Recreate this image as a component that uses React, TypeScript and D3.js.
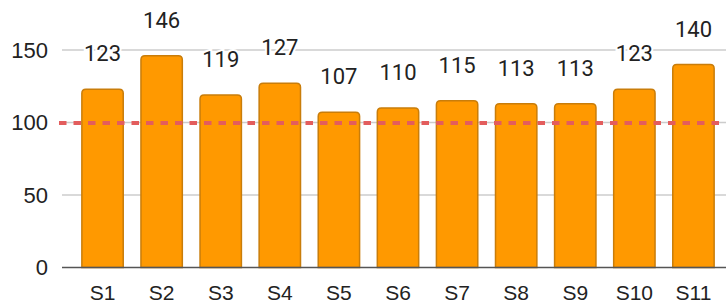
import * as React from "react";
import * as d3 from "d3";

const stores = ["S1", "S2", "S3", "S4", "S5", "S6", "S7", "S8", "S9", "S10", "S11"];
const sales = [123, 146, 119, 127, 107, 110, 115, 113, 113, 123, 140];
const yTicks = [0, 50, 100, 150];
const target = 100;

const W = 726;
const H = 302;
const labelFont = "Roboto, 'Noto Sans', sans-serif";
const axisFont = "'Liberation Sans', Arial, sans-serif";

export default function App() {
  const x = d3.scaleBand<string>()
    .domain(stores)
    .range([73, 723])
    .paddingInner(0.3)
    .paddingOuter(0.15);

  const y = d3.scaleLinear().domain([0, 150]).range([267.5, 50]);

  const gridLeft = 62;

  return (
    <svg width={W} height={H} style={{ position: "absolute", left: 0, top: 0 }}>
      {/* grid */}
      {yTicks.filter(t => t > 0).map(t => (
        <line key={t} x1={gridLeft} x2={W} y1={y(t)} y2={y(t)} stroke="#cccccc" strokeWidth={1.5} />
      ))}
      {yTicks.map(t => (
        <text key={"l" + t} x={48} y={y(t)} dy="0.36em" textAnchor="end" fontSize={22} fill="#222" fontFamily={axisFont}>
          {t}
        </text>
      ))}

      {/* bars */}
      {stores.map((s, i) => (
        <path
          key={s}
          d={(() => {
            const x0 = x(s)!;
            const w = x.bandwidth();
            const y0 = y(sales[i]);
            const yb = y(0);
            const r = 4;
            return `M${x0},${yb}V${y0 + r}Q${x0},${y0} ${x0 + r},${y0}H${x0 + w - r}Q${x0 + w},${y0} ${x0 + w},${y0 + r}V${yb}Z`;
          })()}
          fill="#ff9900"
          stroke="#c97d0a"
          strokeWidth={1.5}
        />
      ))}

      {/* target line */}
      <line x1={59} x2={W} y1={y(target) + 0.5} y2={y(target) + 0.5} stroke="#e35d5d" strokeWidth={4} strokeDasharray="7.5 7" />

      {/* baseline */}
      <line x1={gridLeft} x2={W} y1={y(0)} y2={y(0)} stroke="#555" strokeWidth={1.5} />

      {/* value labels */}
      {stores.map((s, i) => (
        <text
          key={"v" + s}
          x={x(s)! + x.bandwidth() / 2}
          y={y(sales[i]) - 28}
          textAnchor="middle"
          fontSize={22}
          fill="#222"
          fontFamily={labelFont}
          stroke="#fff"
          strokeWidth={4}
          paintOrder="stroke"
        >
          {sales[i]}
        </text>
      ))}

      {/* x labels */}
      {stores.map(s => (
        <text key={"x" + s} x={x(s)! + x.bandwidth() / 2} y={300} textAnchor="middle" fontSize={21} fill="#222" fontFamily={axisFont}>
          {s}
        </text>
      ))}
    </svg>
  );
}
